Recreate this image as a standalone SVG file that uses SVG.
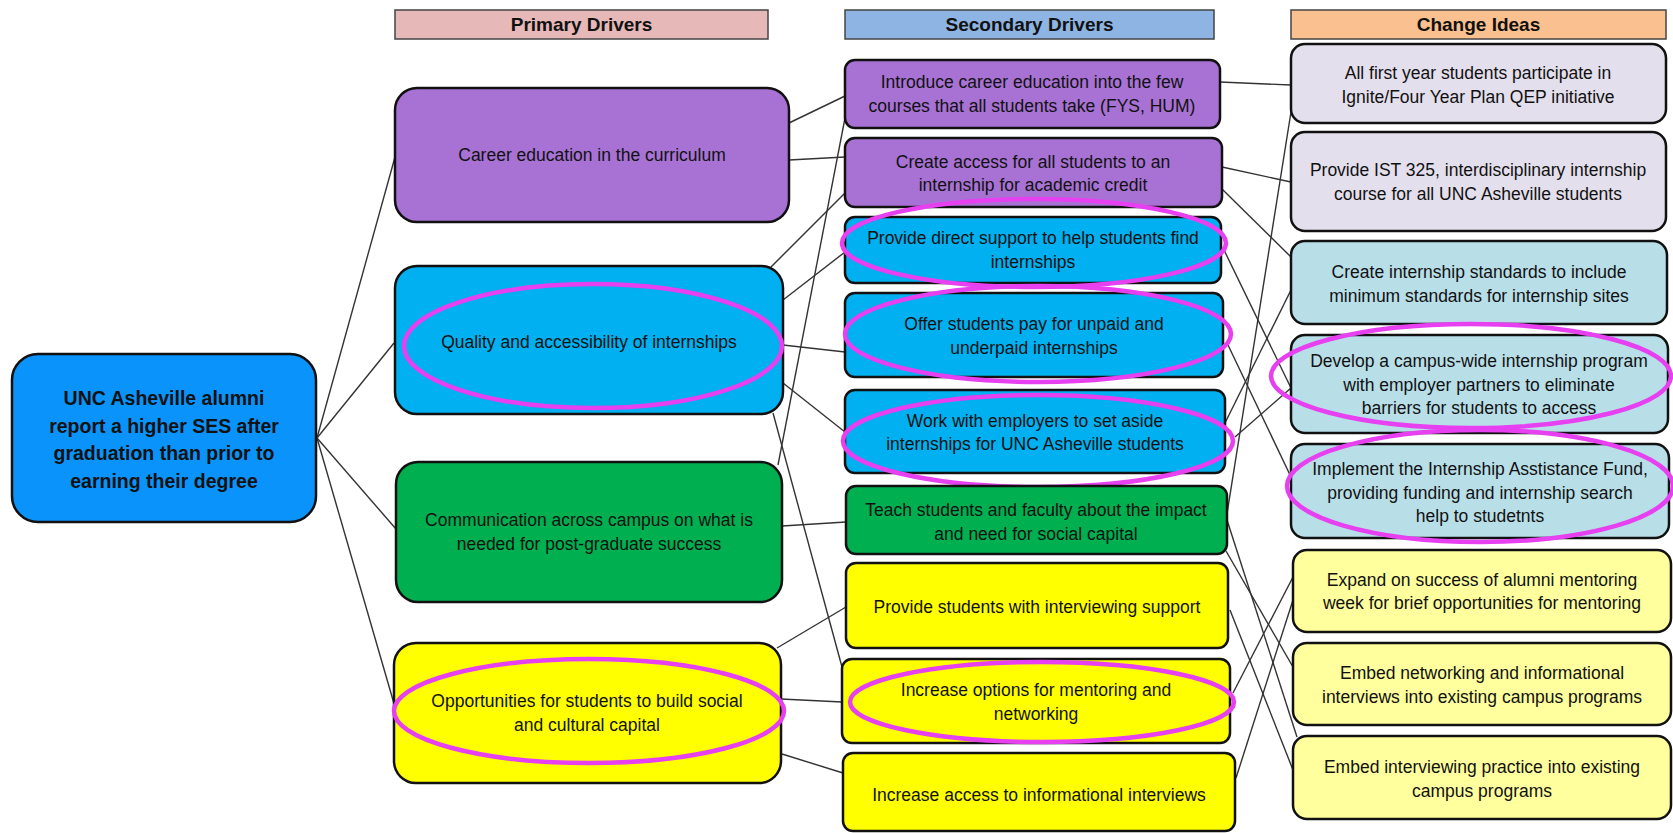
<svg xmlns="http://www.w3.org/2000/svg" width="1673" height="833" viewBox="0 0 1673 833">
<style>
text{font-family:"Liberation Sans",Arial,sans-serif;fill:#111;text-anchor:middle}
.t{font-size:17.5px}
.h{font-size:19px;font-weight:bold}
.m{font-size:19.5px;font-weight:bold}
.box{stroke:#111;stroke-width:2.5}
.hd{stroke:#444;stroke-width:1.5}
.hl{fill:none;stroke:#E640F0;stroke-width:4.5}
.c line{stroke:#333;stroke-width:1.4}
.pu{fill:#A872D5}.cy{fill:#00B0F0}.gr{fill:#00AF50}.ye{fill:#FFFF00}
.la{fill:#E4DFEC}.lb{fill:#B8DEE8}.ly{fill:#FFFF9E}
</style>
<rect width="1673" height="833" fill="#fff"/>
<g id="headers">
<rect class="hd" x="395" y="10" width="373" height="29" fill="#E6B8B7"/>
<text class="h" x="581.5" y="31">Primary Drivers</text>
<rect class="hd" x="845" y="10" width="369" height="29" fill="#8DB4E2"/>
<text class="h" x="1029.5" y="31">Secondary Drivers</text>
<rect class="hd" x="1291" y="10" width="375" height="29" fill="#FAC08F"/>
<text class="h" x="1478.5" y="31">Change Ideas</text>
</g>
<g id="connectors" class="c">
<line x1="317" y1="438" x2="395" y2="157"/>
<line x1="317" y1="438" x2="394" y2="343"/>
<line x1="317" y1="438" x2="396" y2="529"/>
<line x1="317" y1="438" x2="395" y2="707"/>
<line x1="789" y1="123" x2="845" y2="96"/>
<line x1="789" y1="160" x2="845" y2="157"/>
<line x1="771" y1="267" x2="845" y2="193"/>
<line x1="783" y1="300" x2="845" y2="252"/>
<line x1="783" y1="345" x2="845" y2="352"/>
<line x1="783" y1="383" x2="845" y2="432"/>
<line x1="773" y1="413" x2="842" y2="667"/>
<line x1="778" y1="465" x2="845" y2="118"/>
<line x1="782" y1="526" x2="846" y2="522"/>
<line x1="777" y1="648" x2="846" y2="607"/>
<line x1="781" y1="699" x2="842" y2="702"/>
<line x1="782" y1="754" x2="843" y2="773"/>
<line x1="1220" y1="82" x2="1291" y2="85"/>
<line x1="1222" y1="167" x2="1291" y2="182"/>
<line x1="1222" y1="189" x2="1291" y2="257"/>
<line x1="1291" y1="112" x2="1226" y2="520"/>
<line x1="1224" y1="250" x2="1291" y2="388"/>
<line x1="1225" y1="423" x2="1291" y2="290"/>
<line x1="1235" y1="437" x2="1291" y2="388"/>
<line x1="1228" y1="345" x2="1291" y2="477"/>
<line x1="1227" y1="520" x2="1297" y2="737"/>
<line x1="1226" y1="551" x2="1293" y2="667"/>
<line x1="1230" y1="610" x2="1293" y2="770"/>
<line x1="1233" y1="693" x2="1293" y2="577"/>
<line x1="1236" y1="778" x2="1293" y2="600"/>
</g>
<g id="aim">
<rect class="box" x="12" y="354" width="304" height="168" rx="26" fill="#0A93FB"/>
<text class="m" x="164" y="405">UNC Asheville alumni</text>
<text class="m" x="164" y="433">report a higher SES after</text>
<text class="m" x="164" y="460">graduation than prior to</text>
<text class="m" x="164" y="488">earning their degree</text>
</g>
<g id="p1">
<rect class="box pu" x="395" y="88" width="394" height="134" rx="22"/>
<text class="t" x="592" y="161">Career education in the curriculum</text>
</g>
<g id="p2">
<rect class="box cy" x="395" y="266" width="388" height="148" rx="22"/>
<ellipse class="hl" cx="593" cy="346" rx="189" ry="62"/>
<text class="t" x="589" y="348">Quality and accessibility of internships</text>
</g>
<g id="p3">
<rect class="box gr" x="396" y="462" width="386" height="140" rx="22"/>
<text class="t" x="589" y="526">Communication across campus on what is</text>
<text class="t" x="589" y="550">needed for post-graduate success</text>
</g>
<g id="p4">
<rect class="box ye" x="394" y="643" width="387" height="140" rx="22"/>
<ellipse class="hl" cx="589" cy="711" rx="195" ry="52"/>
<text class="t" x="587" y="707">Opportunities for students to build social</text>
<text class="t" x="587" y="731">and cultural capital</text>
</g>
<g id="s1">
<rect class="box pu" x="845" y="60" width="375" height="68" rx="10"/>
<text class="t" x="1032" y="88">Introduce career education into the few</text>
<text class="t" x="1032" y="112">courses that all students take (FYS, HUM)</text>
</g>
<g id="s2">
<rect class="box pu" x="845" y="138" width="377" height="69" rx="10"/>
<text class="t" x="1033" y="168">Create access for all students to an</text>
<text class="t" x="1033" y="191">internship for academic credit</text>
</g>
<g id="s3">
<rect class="box cy" x="845" y="217" width="376" height="66" rx="10"/>
<ellipse class="hl" cx="1034" cy="243" rx="192" ry="44"/>
<text class="t" x="1033" y="244">Provide direct support to help students find</text>
<text class="t" x="1033" y="268">internships</text>
</g>
<g id="s4">
<rect class="box cy" x="845" y="293" width="378" height="84" rx="10"/>
<ellipse class="hl" cx="1038" cy="334" rx="193" ry="48"/>
<text class="t" x="1034" y="330">Offer students pay for unpaid and</text>
<text class="t" x="1034" y="354">underpaid internships</text>
</g>
<g id="s5">
<rect class="box cy" x="845" y="390" width="380" height="83" rx="10"/>
<ellipse class="hl" cx="1038" cy="441" rx="195" ry="46"/>
<text class="t" x="1035" y="427">Work with employers to set aside</text>
<text class="t" x="1035" y="450">internships for UNC Asheville students</text>
</g>
<g id="s6">
<rect class="box gr" x="846" y="486" width="381" height="68" rx="10"/>
<text class="t" x="1036" y="516">Teach students and faculty about the impact</text>
<text class="t" x="1036" y="540">and need for social capital</text>
</g>
<g id="s7">
<rect class="box ye" x="846" y="563" width="382" height="85" rx="10"/>
<text class="t" x="1037" y="613">Provide students with interviewing support</text>
</g>
<g id="s8">
<rect class="box ye" x="842" y="659" width="388" height="84" rx="10"/>
<ellipse class="hl" cx="1042" cy="702" rx="192" ry="40"/>
<text class="t" x="1036" y="696">Increase options for mentoring and</text>
<text class="t" x="1036" y="720">networking</text>
</g>
<g id="s9">
<rect class="box ye" x="843" y="753" width="392" height="78" rx="10"/>
<text class="t" x="1039" y="801">Increase access to informational interviews</text>
</g>
<g id="c1">
<rect class="box la" x="1291" y="44" width="375" height="79" rx="14"/>
<text class="t" x="1478" y="79">All first year students participate in</text>
<text class="t" x="1478" y="103">Ignite/Four Year Plan QEP initiative</text>
</g>
<g id="c2">
<rect class="box la" x="1291" y="132" width="375" height="99" rx="14"/>
<text class="t" x="1478" y="176">Provide IST 325, interdisciplinary internship</text>
<text class="t" x="1478" y="200">course for all UNC Asheville students</text>
</g>
<g id="c3">
<rect class="box lb" x="1291" y="241" width="376" height="83" rx="14"/>
<text class="t" x="1479" y="278">Create internship standards to include</text>
<text class="t" x="1479" y="302">minimum standards for internship sites</text>
</g>
<g id="c4">
<rect class="box lb" x="1291" y="335" width="377" height="98" rx="14"/>
<ellipse class="hl" cx="1471" cy="376" rx="200" ry="52"/>
<text class="t" x="1479" y="367">Develop a campus-wide internship program</text>
<text class="t" x="1479" y="391">with employer partners to eliminate</text>
<text class="t" x="1479" y="414">barriers for students to access</text>
</g>
<g id="c5">
<rect class="box lb" x="1291" y="444" width="378" height="94" rx="14"/>
<ellipse class="hl" cx="1480" cy="486" rx="193" ry="56"/>
<text class="t" x="1480" y="475">Implement the Internship Asstistance Fund,</text>
<text class="t" x="1480" y="499">providing funding and internship search</text>
<text class="t" x="1480" y="522">help to studetnts</text>
</g>
<g id="c6">
<rect class="box ly" x="1293" y="550" width="378" height="82" rx="14"/>
<text class="t" x="1482" y="586">Expand on success of alumni mentoring</text>
<text class="t" x="1482" y="609">week for brief opportunities for mentoring</text>
</g>
<g id="c7">
<rect class="box ly" x="1293" y="643" width="378" height="82" rx="14"/>
<text class="t" x="1482" y="679">Embed networking and informational</text>
<text class="t" x="1482" y="703">interviews into existing campus programs</text>
</g>
<g id="c8">
<rect class="box ly" x="1293" y="736" width="378" height="83" rx="14"/>
<text class="t" x="1482" y="773">Embed interviewing practice into existing</text>
<text class="t" x="1482" y="797">campus programs</text>
</g>
</svg>
